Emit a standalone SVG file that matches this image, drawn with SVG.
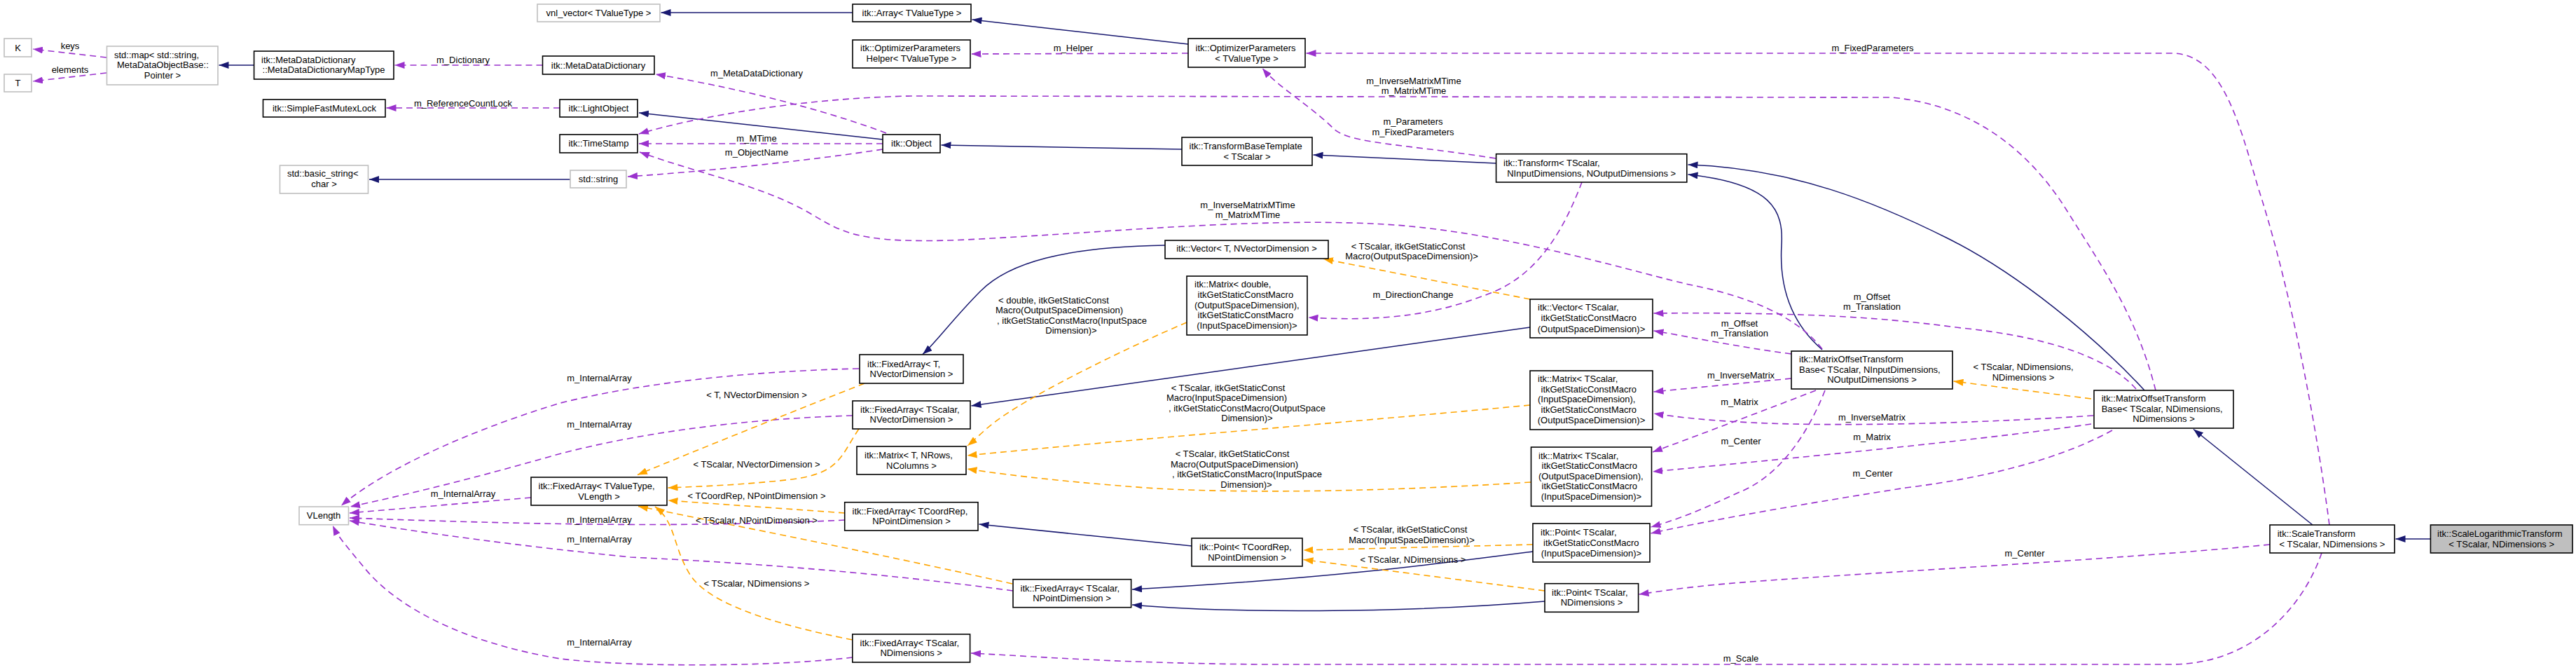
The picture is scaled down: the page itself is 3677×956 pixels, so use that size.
<svg xmlns="http://www.w3.org/2000/svg" width="3677" height="956" viewBox="0 0 3677 956">
<defs>
<style>
text{font-family:"Liberation Sans",Arial,Helvetica,sans-serif;font-size:13px;fill:#000}
.m{text-anchor:middle}
.nd rect{fill:#fff;stroke:#000;stroke-width:1.6}
.gy rect{fill:#fff;stroke:#bfbfbf;stroke-width:1.6}
.rt rect{fill:#bfbfbf;stroke:#000;stroke-width:1.6}
.inh{fill:none;stroke:#191970;stroke-width:1.5;marker-end:url(#an)}
.use{fill:none;stroke:#9a32cd;stroke-width:1.6;stroke-dasharray:9,6;marker-end:url(#ap)}
.tpl{fill:none;stroke:#ffa500;stroke-width:1.6;stroke-dasharray:9,6;marker-end:url(#ao)}
</style>
<marker id="an" viewBox="0 0 14 10" refX="14" refY="5" markerWidth="14" markerHeight="10" markerUnits="userSpaceOnUse" orient="auto"><path d="M0,0 L14,5 L0,10 z" fill="#191970"/></marker>
<marker id="ap" viewBox="0 0 14 10" refX="14" refY="5" markerWidth="14" markerHeight="10" markerUnits="userSpaceOnUse" orient="auto"><path d="M0,0 L14,5 L0,10 z" fill="#9a32cd"/></marker>
<marker id="ao" viewBox="0 0 14 10" refX="14" refY="5" markerWidth="14" markerHeight="10" markerUnits="userSpaceOnUse" orient="auto"><path d="M0,0 L14,5 L0,10 z" fill="#ffa500"/></marker>
</defs>
<rect width="3677" height="956" fill="#fff"/>
<g id="edges">
<path class="inh" d="M362.6,93 L312.5,93"/>
<path class="inh" d="M814,256 L527,256"/>
<path class="inh" d="M1217,18 L943.5,18"/>
<path class="inh" d="M1696,63 L1387.5,28"/>
<path class="inh" d="M1260,199 L912,161"/>
<path class="inh" d="M1687,213 L1343.5,207"/>
<path class="inh" d="M2135.6,233 L1874.5,221"/>
<path class="inh" d="M2601,499 C2550,455 2540,400 2543,350 C2546,300 2530,262 2409.5,249"/>
<path class="inh" d="M3061,557 C2990,480 2880,390 2780,340 C2680,290 2560,240 2409.5,235"/>
<path class="inh" d="M3301,749 L3131,612.5"/>
<path class="inh" d="M3469.4,769 L3419.5,769"/>
<path class="inh" d="M1663,350 C1520,352 1440,375 1400,415 C1360,455 1335,490 1317,505.5"/>
<path class="inh" d="M2184,467 L1386.5,579"/>
<path class="inh" d="M1701,779 L1397.5,748"/>
<path class="inh" d="M2188,787 C2050,805 1900,825 1616,841"/>
<path class="inh" d="M2205,858 C2000,875 1750,875 1616,863"/>

<path class="use" d="M152,82 L47,70"/>
<path class="use" d="M152,104 L47,116"/>
<path class="use" d="M774.5,93 L563.5,93"/>
<path class="use" d="M799,154 L551.5,154"/>
<path class="use" d="M1265,190 C1200,165 1080,130 936,106"/>
<path class="use" d="M1260,205 L912,205"/>
<path class="use" d="M1260,213 C1150,230 1000,245 896,252"/>
<path class="use" d="M3077,557 C3050,450 3000,380 2950,300 C2900,220 2820,150 2700,139 L1300,137 C1150,140 1000,165 912,191"/>
<path class="use" d="M2601,498 C2560,445 2480,420 2416,407 S2150,330 1976,320 S1600,330 1399,341 S1200,325 1135,293 S990,245 913,217"/>
<path class="use" d="M3325,749 C3300,560 3260,380 3223,267 C3195,170 3170,76 3100,76 L1864.5,76"/>
<path class="use" d="M2135,226 C2000,205 1930,205 1905,185 C1870,150 1825,125 1802,97.5"/>
<path class="use" d="M2258,260 C2235,320 2200,390 2128,418 C2060,445 1990,460 1867.5,453"/>
<path class="use" d="M1696,76 L1386.5,77"/>
<path class="use" d="M2557,505 C2480,495 2420,482 2360.5,472"/>
<path class="use" d="M3049,555 C3010,510 2920,480 2800,468 C2700,455 2600,445 2360.5,447"/>
<path class="use" d="M2557,540 L2360.5,559"/>
<path class="use" d="M2592,557 C2520,585 2440,615 2359,645"/>
<path class="use" d="M2605,557 C2580,620 2540,680 2481,703 C2440,722 2400,740 2356.5,752"/>
<path class="use" d="M2988,593 C2850,602 2650,610 2500,603 C2440,600 2400,596 2360.5,590"/>
<path class="use" d="M2985,605 C2850,625 2600,650 2359,673"/>
<path class="use" d="M3015,614 C2950,650 2850,680 2720,696 C2600,715 2450,740 2356.5,761"/>
<path class="use" d="M3240,777 C3000,800 2700,815 2500,830 C2420,836 2380,842 2339.5,848"/>
<path class="use" d="M3314,789 C3290,860 3220,948 3099,948 L1800,948 C1600,946 1500,938 1386,932"/>
<path class="use" d="M758,710 L499,732"/>
<path class="use" d="M1226,526 C1050,530 900,550 800,575 C700,605 560,660 487,721.5"/>
<path class="use" d="M1217,593 C1050,598 900,620 790,650 C650,690 560,710 500,723"/>
<path class="use" d="M1206,742 C1000,752 800,750 499,739"/>
<path class="use" d="M1446,843 C1200,810 1000,800 900,795 C750,780 600,760 499,743"/>
<path class="use" d="M1217,938 C1100,952 900,952 800,940 C650,915 560,860 520,810 C495,780 482,765 475,750"/>

<path class="tpl" d="M1694,460 C1600,500 1480,560 1430,595 C1405,612 1395,625 1381,636"/>
<path class="tpl" d="M2184,578 C1900,605 1600,628 1380.5,650"/>
<path class="tpl" d="M2185,688 C2000,700 1800,705 1650,697 C1550,690 1450,680 1380.5,669"/>
<path class="tpl" d="M2184,427 L1889,369.5"/>
<path class="tpl" d="M1234,547 C1150,580 1000,640 910,677.5"/>
<path class="tpl" d="M1226,612 C1200,650 1200,675 1130,684 C1060,692 1000,694 953.5,696"/>
<path class="tpl" d="M1206,732 L953.5,714"/>
<path class="tpl" d="M1445,833 C1300,800 1100,760 1000,740 C960,732 930,726 911,722.5"/>
<path class="tpl" d="M1217,913 C1100,890 1010,860 985,820 C960,780 965,745 935,723"/>
<path class="tpl" d="M2188,777 L1860.5,785"/>
<path class="tpl" d="M2205,843 L1860.5,798.5"/>
<path class="tpl" d="M2985,569 L2788.5,544"/>

<g id="edge-labels">
<text class="m" x="100" y="69.5">keys</text>
<text class="m" x="100" y="103.5">elements</text>
<text class="m" x="661" y="89.5">m_Dictionary</text>
<text class="m" x="661" y="151.5">m_ReferenceCountLock</text>
<text class="m" x="1532" y="72.5">m_Helper</text>
<text class="m" x="1080" y="108.5">m_MetaDataDictionary</text>
<text class="m" x="1080" y="201.5">m_MTime</text>
<text class="m" x="1080" y="221.5">m_ObjectName</text>
<text class="m" x="2018" y="119.5">m_InverseMatrixMTime</text>
<text class="m" x="2018" y="133.5">m_MatrixMTime</text>
<text class="m" x="1781" y="296.5">m_InverseMatrixMTime</text>
<text class="m" x="1781" y="310.5">m_MatrixMTime</text>
<text class="m" x="2017" y="177.5">m_Parameters</text>
<text class="m" x="2017" y="192.5">m_FixedParameters</text>
<text class="m" x="2673" y="72.5">m_FixedParameters</text>
<text class="m" x="2017" y="424.5">m_DirectionChange</text>
<text class="m" x="2010" y="355.5">&lt; TScalar, itkGetStaticConst</text>
<text class="m" x="2015" y="369.5">Macro(OutputSpaceDimension)&gt;</text>
<text class="m" x="1504" y="432.5">&lt; double, itkGetStaticConst</text>
<text class="m" x="1512" y="447">Macro(OutputSpaceDimension)</text>
<text class="m" x="1530" y="461.5">, itkGetStaticConstMacro(InputSpace</text>
<text class="m" x="1529" y="476">Dimension)&gt;</text>
<text class="m" x="1753" y="557.5">&lt; TScalar, itkGetStaticConst</text>
<text class="m" x="1751" y="572">Macro(InputSpaceDimension)</text>
<text class="m" x="1780" y="587">, itkGetStaticConstMacro(OutputSpace</text>
<text class="m" x="1780" y="601">Dimension)&gt;</text>
<text class="m" x="1759" y="652">&lt; TScalar, itkGetStaticConst</text>
<text class="m" x="1762" y="666.5">Macro(OutputSpaceDimension)</text>
<text class="m" x="1780" y="681">, itkGetStaticConstMacro(InputSpace</text>
<text class="m" x="1779" y="695.5">Dimension)&gt;</text>
<text class="m" x="2483" y="465.5">m_Offset</text>
<text class="m" x="2483" y="480">m_Translation</text>
<text class="m" x="2672" y="427.5">m_Offset</text>
<text class="m" x="2672" y="442">m_Translation</text>
<text class="m" x="2485" y="539.5">m_InverseMatrix</text>
<text class="m" x="2483" y="577.5">m_Matrix</text>
<text class="m" x="2485" y="633.5">m_Center</text>
<text class="m" x="2672" y="600">m_InverseMatrix</text>
<text class="m" x="2672" y="627.5">m_Matrix</text>
<text class="m" x="2673" y="679.5">m_Center</text>
<text class="m" x="2888" y="528">&lt; TScalar, NDimensions,</text>
<text class="m" x="2888" y="543">NDimensions &gt;</text>
<text class="m" x="2013" y="760">&lt; TScalar, itkGetStaticConst</text>
<text class="m" x="2015" y="775">Macro(InputSpaceDimension)&gt;</text>
<text class="m" x="2017" y="803">&lt; TScalar, NDimensions &gt;</text>
<text class="m" x="2890" y="793.5">m_Center</text>
<text class="m" x="2485" y="944">m_Scale</text>
<text class="m" x="661" y="708.5">m_InternalArray</text>
<text class="m" x="855.5" y="543.5">m_InternalArray</text>
<text class="m" x="855.5" y="609.5">m_InternalArray</text>
<text class="m" x="855.5" y="745.5">m_InternalArray</text>
<text class="m" x="855.5" y="773.5">m_InternalArray</text>
<text class="m" x="855.5" y="921">m_InternalArray</text>
<text class="m" x="1080" y="567.5">&lt; T, NVectorDimension &gt;</text>
<text class="m" x="1080" y="667">&lt; TScalar, NVectorDimension &gt;</text>
<text class="m" x="1080" y="712">&lt; TCoordRep, NPointDimension &gt;</text>
<text class="m" x="1080" y="747">&lt; TScalar, NPointDimension &gt;</text>
<text class="m" x="1080" y="836.5">&lt; TScalar, NDimensions &gt;</text>
</g>
</g>

<g id="n_K" class="gy"><rect x="6" y="55" width="39" height="26"/><text class="m" x="25.5" y="72.5">K</text></g>
<g id="n_T" class="gy"><rect x="6" y="106" width="39" height="25"/><text class="m" x="25.5" y="123">T</text></g>
<g id="n_map" class="gy"><rect x="152.5" y="66" width="158.5" height="55"/><text x="163" y="82.5">std::map&lt; std::string,</text><text x="167" y="97">MetaDataObjectBase::</text><text class="m" x="232" y="111.5">Pointer &gt;</text></g>
<g id="n_mdmt" class="nd"><rect x="362.6" y="73" width="199.4" height="40"/><text x="373" y="89.5">itk::MetaDataDictionary</text><text class="m" x="462" y="104">::MetaDataDictionaryMapType</text></g>
<g id="n_sfml" class="nd"><rect x="375.5" y="142" width="174.5" height="25"/><text class="m" x="463" y="158.5">itk::SimpleFastMutexLock</text></g>
<g id="n_bstr" class="gy"><rect x="399.5" y="236" width="126" height="40"/><text x="410" y="252">std::basic_string&lt;</text><text class="m" x="462.5" y="267">char &gt;</text></g>
<g id="n_vnl" class="gy"><rect x="767" y="6" width="175" height="25"/><text class="m" x="854.5" y="22.5">vnl_vector&lt; TValueType &gt;</text></g>
<g id="n_mdd" class="nd"><rect x="774.5" y="80" width="159.5" height="26"/><text class="m" x="854" y="97.5">itk::MetaDataDictionary</text></g>
<g id="n_lo" class="nd"><rect x="799" y="142" width="111" height="25"/><text class="m" x="854.5" y="158.5">itk::LightObject</text></g>
<g id="n_ts" class="nd"><rect x="799" y="192" width="111" height="26"/><text class="m" x="854.5" y="209">itk::TimeStamp</text></g>
<g id="n_str" class="gy"><rect x="814" y="243" width="80" height="25"/><text class="m" x="854" y="260">std::string</text></g>
<g id="n_arr" class="nd"><rect x="1217" y="6" width="169" height="25"/><text class="m" x="1301.5" y="22.5">itk::Array&lt; TValueType &gt;</text></g>
<g id="n_oph" class="nd"><rect x="1217" y="57" width="168" height="40"/><text x="1228" y="73">itk::OptimizerParameters</text><text class="m" x="1301" y="88">Helper&lt; TValueType &gt;</text></g>
<g id="n_op" class="nd"><rect x="1696" y="55" width="167" height="41"/><text x="1706.5" y="72.5">itk::OptimizerParameters</text><text class="m" x="1779.5" y="87.5">&lt; TValueType &gt;</text></g>
<g id="n_obj" class="nd"><rect x="1260" y="192" width="82" height="26"/><text class="m" x="1301" y="209">itk::Object</text></g>
<g id="n_tbt" class="nd"><rect x="1687" y="196" width="186" height="40"/><text x="1697.5" y="212.5">itk::TransformBaseTemplate</text><text class="m" x="1780" y="227.5">&lt; TScalar &gt;</text></g>
<g id="n_tr" class="nd"><rect x="2135.6" y="219.7" width="272.2" height="40.3"/><text x="2146" y="236.5">itk::Transform&lt; TScalar,</text><text class="m" x="2271.7" y="251.5">NInputDimensions, NOutputDimensions &gt;</text></g>
<g id="n_vecT" class="nd"><rect x="1663" y="343" width="233" height="26"/><text class="m" x="1779.5" y="359">itk::Vector&lt; T, NVectorDimension &gt;</text></g>
<g id="n_matD" class="nd"><rect x="1694" y="394" width="172" height="84"/><text x="1705" y="410">itk::Matrix&lt; double,</text><text x="1709.6" y="424.5">itkGetStaticConstMacro</text><text x="1705" y="439.5">(OutputSpaceDimension),</text><text x="1709.6" y="454">itkGetStaticConstMacro</text><text class="m" x="1780" y="469">(InputSpaceDimension)&gt;</text></g>
<g id="n_faT" class="nd"><rect x="1227" y="506" width="148" height="41"/><text x="1238" y="523.5">itk::FixedArray&lt; T,</text><text class="m" x="1301" y="537.5">NVectorDimension &gt;</text></g>
<g id="n_faTS_NVD" class="nd"><rect x="1217" y="572" width="168" height="40"/><text x="1228" y="588.5">itk::FixedArray&lt; TScalar,</text><text class="m" x="1301" y="603">NVectorDimension &gt;</text></g>
<g id="n_vecTS" class="nd"><rect x="2184" y="427" width="175" height="55"/><text x="2195" y="443">itk::Vector&lt; TScalar,</text><text x="2199.5" y="458">itkGetStaticConstMacro</text><text class="m" x="2271.5" y="473.5">(OutputSpaceDimension)&gt;</text></g>
<g id="n_motbN" class="nd"><rect x="2557" y="501" width="230" height="54"/><text x="2568" y="517">itk::MatrixOffsetTransform</text><text x="2568" y="531.5">Base&lt; TScalar, NInputDimensions,</text><text class="m" x="2672" y="545.5">NOutputDimensions &gt;</text></g>
<g id="n_matIO" class="nd"><rect x="2184" y="529" width="175" height="84"/><text x="2195" y="544.5">itk::Matrix&lt; TScalar,</text><text x="2199.5" y="559.5">itkGetStaticConstMacro</text><text x="2195" y="574">(InputSpaceDimension),</text><text x="2199.5" y="588.5">itkGetStaticConstMacro</text><text class="m" x="2271.5" y="603.5">(OutputSpaceDimension)&gt;</text></g>
<g id="n_motbD" class="nd"><rect x="2989" y="557" width="199" height="54"/><text x="2999.7" y="573">itk::MatrixOffsetTransform</text><text x="2999.7" y="587.5">Base&lt; TScalar, NDimensions,</text><text class="m" x="3088.5" y="602">NDimensions &gt;</text></g>
<g id="n_st" class="nd"><rect x="3240" y="749" width="178" height="40"/><text x="3250.7" y="765.5">itk::ScaleTransform</text><text class="m" x="3329" y="780.5">&lt; TScalar, NDimensions &gt;</text></g>
<g id="n_slt" class="rt"><rect x="3469.4" y="749" width="202.6" height="40"/><text x="3479" y="765.5">itk::ScaleLogarithmicTransform</text><text class="m" x="3570.7" y="780.5">&lt; TScalar, NDimensions &gt;</text></g>
<g id="n_vlen" class="gy"><rect x="427" y="723" width="70.5" height="25.7"/><text class="m" x="462" y="740">VLength</text></g>
<g id="n_faTV" class="nd"><rect x="758" y="681" width="194" height="40"/><text x="768.5" y="697.5">itk::FixedArray&lt; TValueType,</text><text class="m" x="855" y="712.5">VLength &gt;</text></g>
<g id="n_matT" class="nd"><rect x="1223" y="637" width="156" height="40"/><text x="1234" y="653.5">itk::Matrix&lt; T, NRows,</text><text class="m" x="1301" y="668.5">NColumns &gt;</text></g>
<g id="n_faCR" class="nd"><rect x="1205.7" y="716.7" width="190.3" height="40.3"/><text x="1216.5" y="734">itk::FixedArray&lt; TCoordRep,</text><text class="m" x="1301" y="748">NPointDimension &gt;</text></g>
<g id="n_ptCR" class="nd"><rect x="1701" y="768" width="158" height="40"/><text x="1712" y="784.5">itk::Point&lt; TCoordRep,</text><text class="m" x="1780" y="799.5">NPointDimension &gt;</text></g>
<g id="n_faTS_NPD" class="nd"><rect x="1446" y="826.7" width="168.6" height="40"/><text x="1456.5" y="843.5">itk::FixedArray&lt; TScalar,</text><text class="m" x="1530" y="857.5">NPointDimension &gt;</text></g>
<g id="n_faTS_ND" class="nd"><rect x="1216.8" y="905" width="167.8" height="40"/><text x="1227.5" y="921.5">itk::FixedArray&lt; TScalar,</text><text class="m" x="1300.7" y="935.5">NDimensions &gt;</text></g>
<g id="n_matOI" class="nd"><rect x="2185.5" y="638" width="172" height="84.3"/><text x="2196" y="654.5">itk::Matrix&lt; TScalar,</text><text x="2200.5" y="669">itkGetStaticConstMacro</text><text x="2196" y="683.5">(OutputSpaceDimension),</text><text x="2200.5" y="698">itkGetStaticConstMacro</text><text class="m" x="2271.5" y="713">(InputSpaceDimension)&gt;</text></g>
<g id="n_ptIS" class="nd"><rect x="2188" y="747" width="167" height="55"/><text x="2199" y="763.5">itk::Point&lt; TScalar,</text><text x="2203" y="778.5">itkGetStaticConstMacro</text><text class="m" x="2271.5" y="793.5">(InputSpaceDimension)&gt;</text></g>
<g id="n_ptND" class="nd"><rect x="2205" y="832.7" width="133.6" height="40.6"/><text x="2215" y="849.5">itk::Point&lt; TScalar,</text><text class="m" x="2272" y="864">NDimensions &gt;</text></g>
</svg>
